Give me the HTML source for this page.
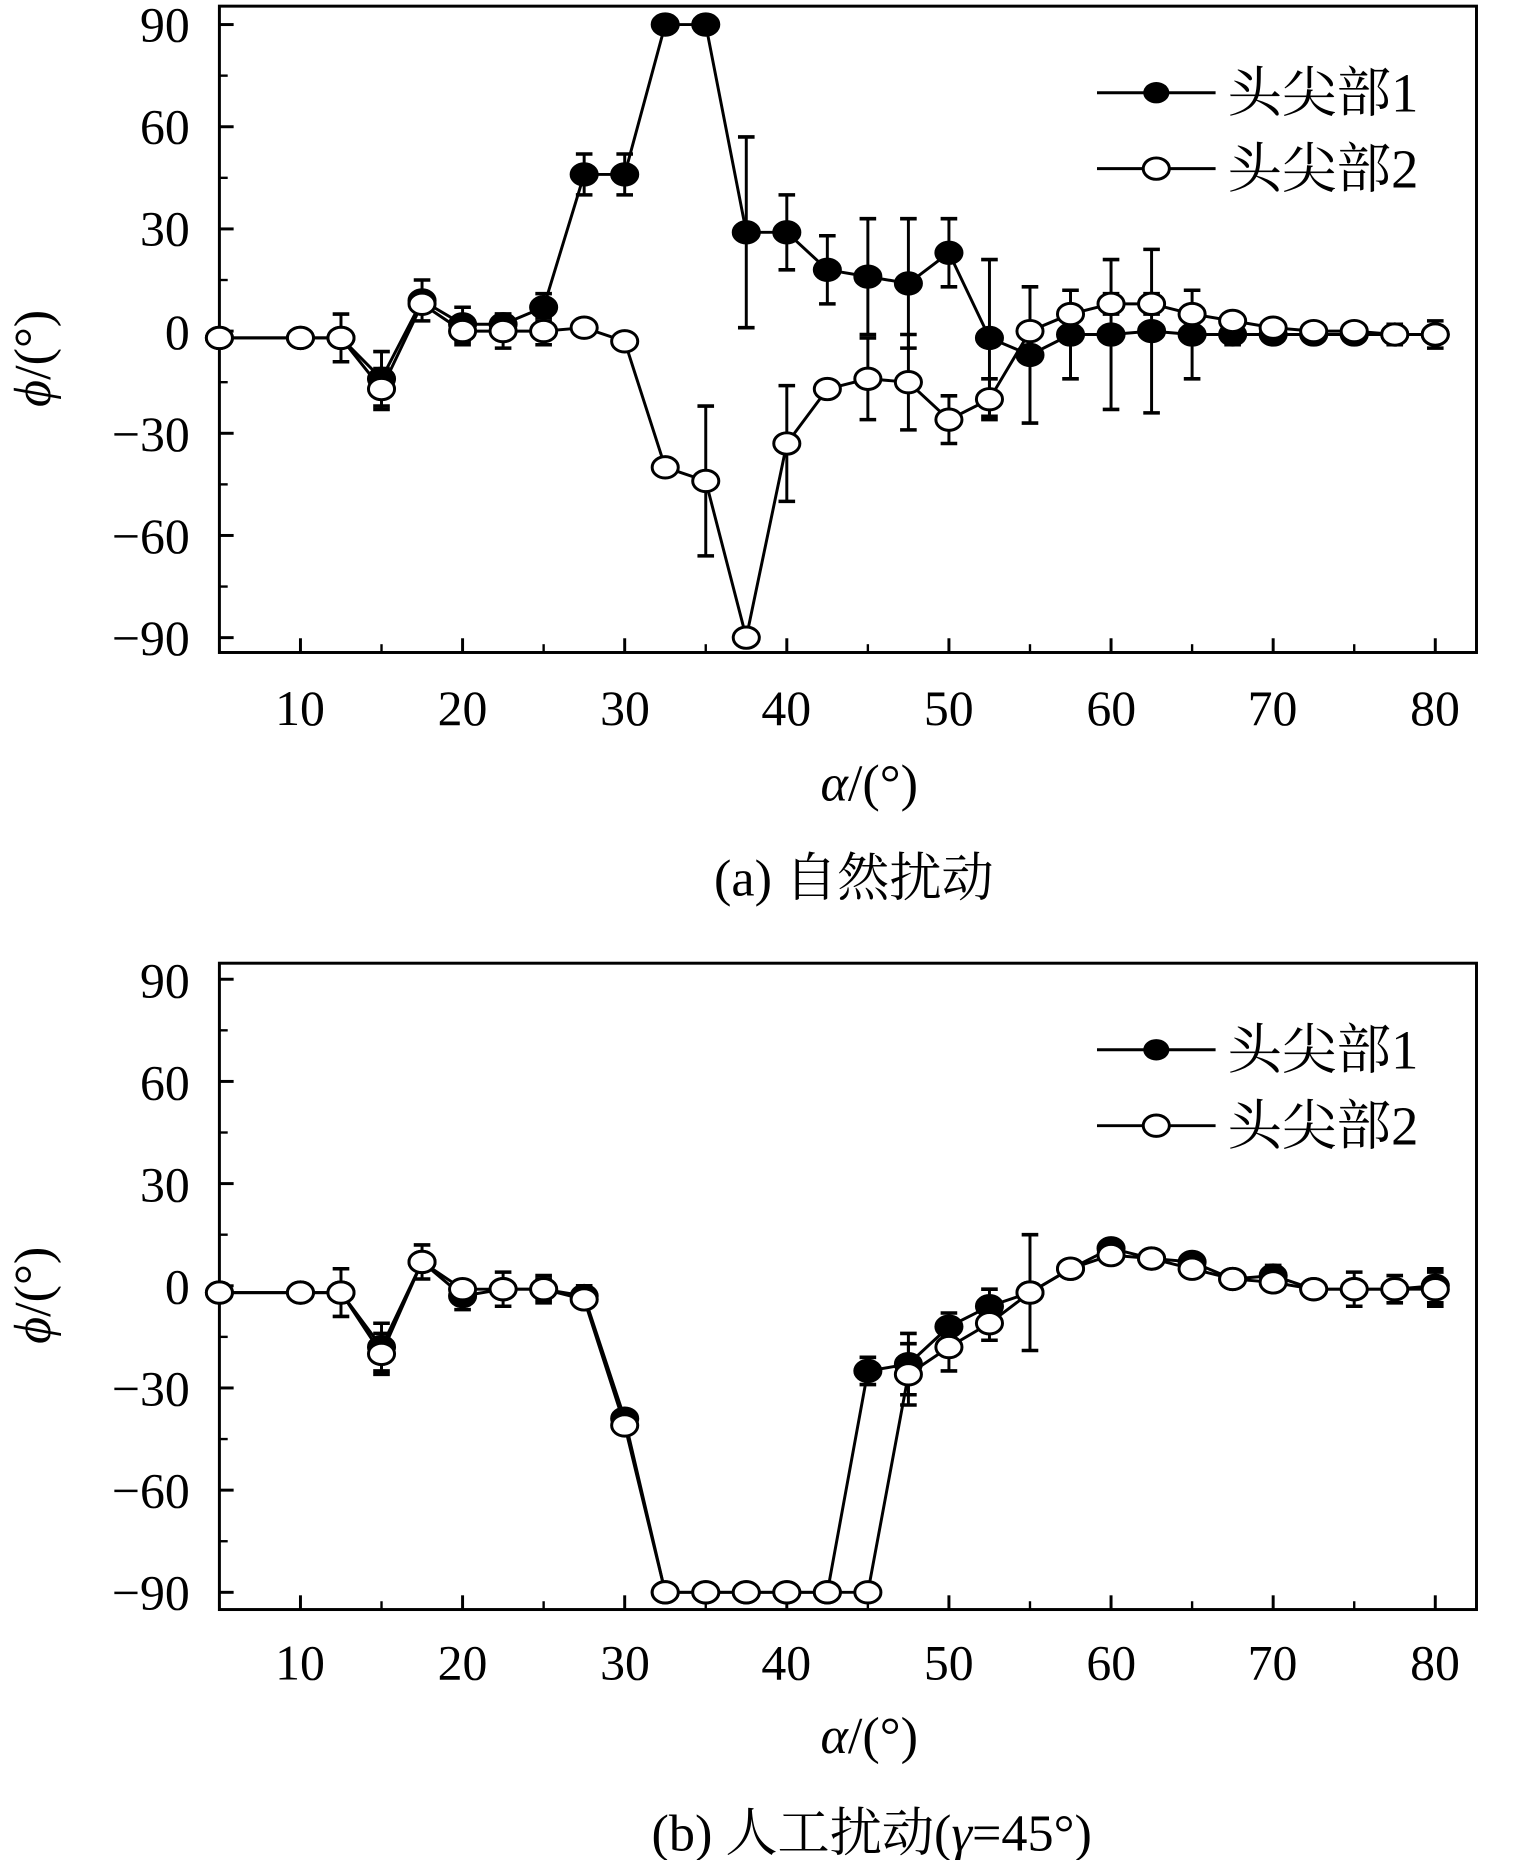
<!DOCTYPE html>
<html><head><meta charset="utf-8"><style>
html,body{margin:0;padding:0;background:#fff}
svg text{font-family:"Liberation Serif","Noto Serif CJK SC",serif;fill:#000}
</style></head><body>
<svg id="s" width="1518" height="1860" viewBox="0 0 1280 1568" xmlns="http://www.w3.org/2000/svg">
<rect width="1280" height="1568" fill="#fff"/>
<g font-size="42" text-anchor="end">
<text x="160" y="35">90</text><text x="160" y="121">60</text><text x="160" y="207">30</text><text x="160" y="294">0</text><text x="160" y="380">−30</text><text x="160" y="466">−60</text><text x="160" y="552">−90</text>
<text x="160" y="841">90</text><text x="160" y="927">60</text><text x="160" y="1013">30</text><text x="160" y="1099">0</text><text x="160" y="1185">−30</text><text x="160" y="1271">−60</text><text x="160" y="1357">−90</text>
</g>
<g font-size="42" text-anchor="middle">
<text x="253" y="611">10</text><text x="390" y="611">20</text><text x="527" y="611">30</text><text x="663" y="611">40</text><text x="800" y="611">50</text><text x="937" y="611">60</text><text x="1073" y="611">70</text><text x="1210" y="611">80</text>
<text x="253" y="1416">10</text><text x="390" y="1416">20</text><text x="527" y="1416">30</text><text x="663" y="1416">40</text><text x="800" y="1416">50</text><text x="937" y="1416">60</text><text x="1073" y="1416">70</text><text x="1210" y="1416">80</text>
<text x="733" y="675" font-size="44"><tspan font-style="italic">α</tspan>/(°)</text>
<text x="733" y="1478" font-size="44"><tspan font-style="italic">α</tspan>/(°)</text>
<text x="720" y="755" font-size="44">(a) 自然扰动</text>
<text x="735" y="1560" font-size="44">(b) 人工扰动(<tspan font-style="italic">γ</tspan>=45°)</text>
<text transform="translate(42,302) rotate(-90)" font-size="44"><tspan font-style="italic">ϕ</tspan>/(°)</text>
<text transform="translate(42,1092) rotate(-90)" font-size="44"><tspan font-style="italic">ϕ</tspan>/(°)</text>
</g>
<g font-size="46">
<text x="1035" y="94">头尖部1</text><text x="1035" y="158">头尖部2</text>
<text x="1035" y="901">头尖部1</text><text x="1035" y="965">头尖部2</text>
</g>
<g id="g"></g>
</svg>
<script>
var g=document.getElementById('g'),h='';
function X(a){return 185+(a-5)*13.67}
function panel(top,y0,s1,s2,e1,e2){
 var Y=function(v){return y0-v*2.872};
 h+='<rect x="185" y="'+top+'" width="1060" height="545" fill="none" stroke="#000" stroke-width="2.5"/>';
 for(var v=-90;v<=90;v+=30){h+='<line x1="185" x2="197" y1="'+Y(v)+'" y2="'+Y(v)+'" stroke="#000" stroke-width="2.5"/>';}
 for(var v=-75;v<=90;v+=30){h+='<line x1="185" x2="192" y1="'+Y(v)+'" y2="'+Y(v)+'" stroke="#000" stroke-width="2"/>';}
 var bot=top+545;
 for(var a=10;a<=80;a+=10){h+='<line x1="'+X(a)+'" x2="'+X(a)+'" y1="'+bot+'" y2="'+(bot-12)+'" stroke="#000" stroke-width="2.5"/>';}
 for(var a=5;a<=80;a+=10){h+='<line x1="'+X(a)+'" x2="'+X(a)+'" y1="'+bot+'" y2="'+(bot-7)+'" stroke="#000" stroke-width="2"/>';}
 function err(s,e){for(var k in e){var a=+k,v=s[k],d=e[k];var x=X(a),y1=Y(v-d),y2=Y(v+d);
  h+='<line x1="'+x+'" x2="'+x+'" y1="'+y1+'" y2="'+y2+'" stroke="#000" stroke-width="2.5"/><line x1="'+(x-7)+'" x2="'+(x+7)+'" y1="'+y1+'" y2="'+y1+'" stroke="#000" stroke-width="3"/><line x1="'+(x-7)+'" x2="'+(x+7)+'" y1="'+y2+'" y2="'+y2+'" stroke="#000" stroke-width="3"/>';}}
 err(s1,e1);err(s2,e2);
 function line(s,fill){var p=[],ks=Object.keys(s).map(Number).sort(function(a,b){return a-b});
  ks.forEach(function(a){p.push(X(a)+','+Y(s[a]))});
  h+='<polyline points="'+p.join(' ')+'" fill="none" stroke="#000" stroke-width="2.5"/>';
  ks.forEach(function(a){h+='<ellipse cx="'+X(a)+'" cy="'+Y(s[a])+'" rx="11" ry="9" fill="'+fill+'" stroke="#000" stroke-width="2.5"/>';});}
 line(s1,'#000');line(s2,'#fff');
}
function mk(arr){var o={};arr.forEach(function(v,i){if(v!==null)o[(i==0?5:7.5+2.5*i)]=v});return o}
var a1=mk([-2,-2,-2,-14,9,2,2,7,46,46,90,90,29,29,18,16,14,23,-2,-7,-1,-1,0,-1,-1,-1,-1,-1,-1,-1]);
var a2=mk([-2,-2,-2,-17,8,0,0,0,1,-3,-40,-44,-90,-33,-17,-14,-15,-26,-20,0,5,8,8,5,3,1,0,0,-1,-1]);
panel(5,279,a1,a2,{12.5:7,15:8,17.5:6,20:5,22.5:3,25:4,27.5:6,30:6,37.5:28,40:11,42.5:10,45:17,47.5:19,50:10,52.5:23,55:20,57.5:13,60:22,62.5:24,65:13,67.5:3,77.5:3,80:4},{15:6,20:4,22.5:5,25:4,35:22,40:17,45:12,47.5:14,50:7,52.5:6,60:3,62.5:3});
h+='<line x1="925" x2="1025" y1="78" y2="78" stroke="#000" stroke-width="2.5"/><ellipse cx="975" cy="78" rx="11" ry="9" fill="#000"/>';
h+='<line x1="925" x2="1025" y1="142" y2="142" stroke="#000" stroke-width="2.5"/><ellipse cx="975" cy="142" rx="11" ry="9" fill="#fff" stroke="#000" stroke-width="2.5"/>';
var b1=mk([-2,-2,-2,-18,7,-3,-1,-1,-3,-39,-90,-90,-90,-90,-90,-25,-23,-12,-6,-2,5,11,8,7,2,3,-1,-1,-1,0]);
var b2=mk([-2,-2,-2,-20,7,-1,-1,-1,-4,-41,-90,-90,-90,-90,-90,-90,-26,-18,-11,-2,5,9,8,5,2,1,-1,-1,-1,-1]);
panel(812,1084,b1,b2,{12.5:7,15:7,17.5:5,20:4,25:3,27.5:3,45:4,47.5:9,50:4,52.5:5,70:3,80:5},{15:6,22.5:5,25:4,47.5:9,50:7,52.5:5,55:17,75:5,77.5:4,80:5});
h+='<line x1="925" x2="1025" y1="885" y2="885" stroke="#000" stroke-width="2.5"/><ellipse cx="975" cy="885" rx="11" ry="9" fill="#000"/>';
h+='<line x1="925" x2="1025" y1="949" y2="949" stroke="#000" stroke-width="2.5"/><ellipse cx="975" cy="949" rx="11" ry="9" fill="#fff" stroke="#000" stroke-width="2.5"/>';
g.innerHTML=h;
</script>
</body></html>
